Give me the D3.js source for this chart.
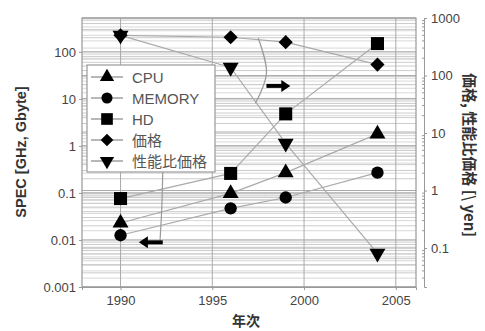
<!DOCTYPE html>
<html><head><meta charset="utf-8">
<script src="https://cdn.jsdelivr.net/npm/d3@7"></script>
<style>body{margin:0;background:#fff}svg{display:block}</style>
</head><body>
<script>
const years = [1990, 1996, 1999, 2004];
const cpu = [0.023, 0.098, 0.27, 1.8];
const memory = [0.0126, 0.047, 0.08, 0.27];
const hd = [0.076, 0.26, 4.8, 150];
const price = [500, 463, 380, 155];
const perfPrice = [500, 138, 6.6, 0.081];
const xTicks = [1990, 1995, 2000, 2005];
const leftTicks = [0.001, 0.01, 0.1, 1, 10, 100];
const leftTickLabels = ["0.001", "0.01", "0.1", "1", "10", "100"];
const rightTicks = [0.1, 1, 10, 100, 1000];
const rightTickLabels = ["0.1", "1", "10", "100", "1000"];
const seriesNames = ["CPU", "MEMORY", "HD", "価格", "性能比価格"];

const W = 485, H = 331;
const svg = d3.select("body").append("svg").attr("width", W).attr("height", H);
const L = 82, R = 416, T = 18, B = 287;
const x = d3.scaleLinear().domain([1987.9, 2006.1]).range([L, R]);
const yL = d3.scaleLog().domain([0.001, Math.pow(10, 2.72)]).range([B, T]);
const yR = d3.scaleLog().domain([0.021, 1000]).range([B, T]);

const font = "Arial, 'Liberation Sans', 'Noto Sans CJK JP', sans-serif";
const cjk = "'Noto Sans CJK JP', Arial, sans-serif";

// grid
const g = svg.append("g");
function minorVals(scale) {
  const [a, b] = scale.domain();
  const out = [];
  for (let e = Math.floor(Math.log10(a)); e <= Math.ceil(Math.log10(b)); e++) {
    for (let m = 1; m <= 9; m++) {
      const v = m * Math.pow(10, e);
      if (v >= a * 0.999 && v <= b * 1.001) out.push({v, major: m === 1});
    }
  }
  return out;
}
minorVals(yR).forEach(d => {
  g.append("line").attr("x1", L).attr("x2", R).attr("y1", yR(d.v)).attr("y2", yR(d.v))
    .attr("stroke", d.major ? "#aaa" : "#d8d8d8").attr("stroke-width", 1);
});
minorVals(yL).forEach(d => {
  g.append("line").attr("x1", L).attr("x2", R).attr("y1", yL(d.v)).attr("y2", yL(d.v))
    .attr("stroke", d.major ? "#999" : "#cccccc").attr("stroke-width", 1);
});
xTicks.forEach(t => {
  g.append("line").attr("x1", x(t)).attr("x2", x(t)).attr("y1", T).attr("y2", B)
    .attr("stroke", "#aaa");
});
// frame
svg.append("rect").attr("x", L).attr("y", T).attr("width", R - L).attr("height", B - T)
  .attr("fill", "none").attr("stroke", "#999").attr("stroke-width", 1.2);

// axes
const xAxis = d3.axisBottom(x).tickValues(xTicks).tickFormat(d3.format("d")).tickSize(3).tickPadding(6);
const ax = svg.append("g").attr("transform", `translate(0,${B})`).call(xAxis);
const lAxis = d3.axisLeft(yL).tickValues(leftTicks).tickFormat((d, i) => leftTickLabels[i]).tickSize(3).tickPadding(3);
const al = svg.append("g").attr("transform", `translate(${L},0)`).call(lAxis);
const RA = 424;
const rAxis = d3.axisRight(yR).tickValues(rightTicks).tickFormat((d, i) => rightTickLabels[i]).tickSize(3).tickPadding(4);
const ar = svg.append("g").attr("transform", `translate(${RA},0)`).call(rAxis);
minorVals(yR).filter(d => !d.major).forEach(d => {
  ar.append("line").attr("x1", -2).attr("x2", 0).attr("y1", yR(d.v)).attr("y2", yR(d.v)).attr("stroke", "#999");
});
[ax, al, ar].forEach(a => {
  a.selectAll("path").attr("stroke", "#999");
  a.selectAll(".tick line").attr("stroke", "#999");
  a.selectAll("text").attr("font-family", font).attr("font-size", 13).attr("fill", "#444");
});
al.select("path").remove();

// symbols
const diamondSym = {draw(ctx, size) { const r = Math.sqrt(size / 2) ; ctx.moveTo(0, -r); ctx.lineTo(r, 0); ctx.lineTo(0, r); ctx.lineTo(-r, 0); ctx.closePath(); }};
const series = [
  {name: seriesNames[0], vals: cpu, axis: yL, sym: d3.symbolTriangle, size: 110},
  {name: seriesNames[1], vals: memory, axis: yL, sym: d3.symbolCircle, size: 120},
  {name: seriesNames[2], vals: hd, axis: yL, sym: d3.symbolSquare, size: 170},
  {name: seriesNames[3], vals: price, axis: yR, sym: diamondSym, size: 100},
  {name: seriesNames[4], vals: perfPrice, axis: yR, sym: d3.symbolTriangle, size: 110, flip: true},
];
series.forEach(s => {
  const ln = d3.line().x((d, i) => x(years[i])).y(d => s.axis(d));
  svg.append("path").attr("d", ln(s.vals)).attr("fill", "none").attr("stroke", "#aaa").attr("stroke-width", 1.2);
});
series.forEach(s => {
  svg.append("g").selectAll("path").data(s.vals).join("path")
    .attr("d", d3.symbol().type(s.sym).size(s.size))
    .attr("transform", (d, i) => `translate(${x(years[i])},${s.axis(d)})${s.flip ? " rotate(180)" : ""}`)
    .attr("fill", "#000");
});

// annotations (curves + arrows) in data coordinates
const curveR = [[1997.5, 450], [1997.95, 110], [1997.35, 33]];
const cr = d3.line().curve(d3.curveCatmullRom).x(d => x(d[0])).y(d => yR(d[1]));
svg.append("path").attr("d", cr(curveR)).attr("fill", "none").attr("stroke", "#999").attr("stroke-width", 1.2);
const curveL = [[1992.3, 0.3], [1992.25, 0.05], [1992.15, 0.0095]];
const cl = d3.line().curve(d3.curveCatmullRom).x(d => x(d[0])).y(d => yL(d[1]));
svg.append("path").attr("d", cl(curveL)).attr("fill", "none").attr("stroke", "#999").attr("stroke-width", 1.2);
function arrow(x1, x2, y) {
  const dir = Math.sign(x2 - x1);
  svg.append("line").attr("x1", x1).attr("x2", x2 - dir * 6).attr("y1", y).attr("y2", y)
    .attr("stroke", "#000").attr("stroke-width", 4);
  svg.append("path").attr("d", `M${x2},${y} L${x2 - dir * 9},${y - 6} L${x2 - dir * 9},${y + 6} Z`).attr("fill", "#000");
}
arrow(x(1997.95), x(1999.25), yR(66));
arrow(x(1992.3), x(1991.0), yL(0.0089));

// legend
const lg = svg.append("g").attr("transform", "translate(87,65)");
lg.append("rect").attr("width", 128).attr("height", 107).attr("fill", "#fff").attr("stroke", "#999").attr("stroke-width", 1.2);
series.forEach((s, i) => {
  const yy = 12 + i * 21;
  lg.append("line").attr("x1", 4).attr("x2", 36).attr("y1", yy).attr("y2", yy).attr("stroke", "#888").attr("stroke-width", 1.2);
  lg.append("path").attr("d", d3.symbol().type(s.sym).size(s.size * 0.8))
    .attr("transform", `translate(20,${yy})${s.flip ? " rotate(180)" : ""}`).attr("fill", "#000");
  lg.append("text").attr("x", 45).attr("y", yy + 5.5).text(s.name)
    .attr("font-family", i >= 3 ? cjk : font).attr("font-size", 15).attr("fill", "#555");
});

// axis titles
svg.append("text").attr("transform", "translate(26,152) rotate(-90)").attr("text-anchor", "middle")
  .attr("font-family", font).attr("font-weight", "bold").attr("font-size", 14.5).attr("fill", "#333")
  .text("SPEC [GHz, Gbyte]");
svg.append("text").attr("transform", "translate(464,155) rotate(90)").attr("text-anchor", "middle")
  .attr("font-family", cjk).attr("font-weight", "bold").attr("font-size", 15).attr("fill", "#333")
  .text("価格, 性能比価格 [\\ yen]");
svg.append("text").attr("x", 246).attr("y", 326).attr("text-anchor", "middle")
  .attr("font-family", cjk).attr("font-weight", "bold").attr("font-size", 14).attr("fill", "#333")
  .text("年次");
</script>
</body></html>
